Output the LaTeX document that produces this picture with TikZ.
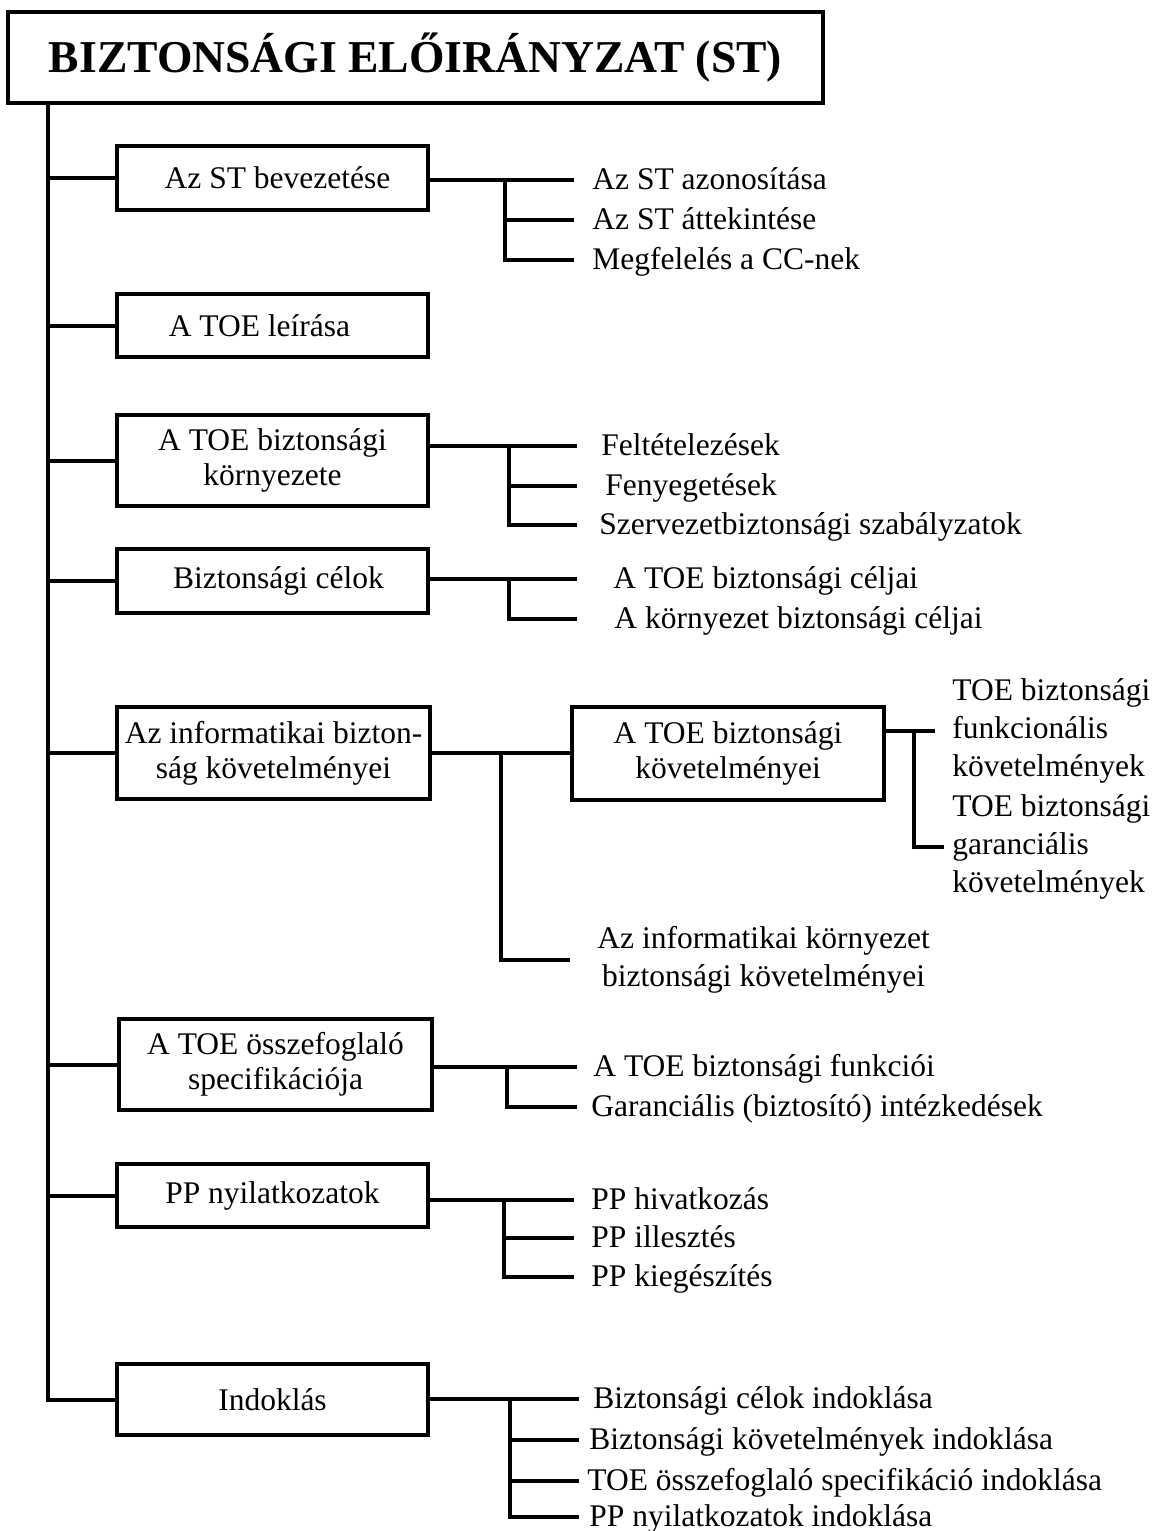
\documentclass[tikz,border=0pt]{standalone}
\usepackage{fontspec}
\setmainfont{Liberation Serif}
\begin{document}
\tikzset{
  ln/.style={line width=2pt},
  box/.style={draw, line width=2pt, inner sep=1pt, align=center,
    font=\fontsize{15.75}{17.5}\selectfont},
  item/.style={anchor=west, inner ysep=0pt, inner xsep=9pt,
    font=\fontsize{15.75}{19}\selectfont, text height=11.5pt, text depth=2.5pt},
  multi/.style={anchor=west, inner ysep=0pt, font=\fontsize{15.75}{19}\selectfont},
}
\begin{tikzpicture}[x=0.5pt,y=-0.5pt]
\fill[white,use as bounding box] (0,0) rectangle (1163,1531);

% title
\node[box, font=\bfseries\fontsize{22.8}{27}\selectfont, minimum width=407.5pt, minimum height=45.5pt]
  (title) at (415.5,57.5) {BIZTONSÁGI ELŐIRÁNYZAT (ST)};

% main boxes
\node[box, minimum width=155.5pt, minimum height=32pt]   (b1) at (272.5,178)    {\hspace*{5pt}Az ST bevezetése};
\node[box, minimum width=155.5pt, minimum height=31.5pt] (b2) at (272.5,325.5)  {A TOE leírása\hspace*{13pt}};
\node[box, minimum width=155.5pt, minimum height=45.5pt] (b3) at (272.5,460.5)  {A TOE biztonsági\\környezete};
\node[box, minimum width=155.5pt, minimum height=32pt]   (b4) at (272.5,581)    {\hspace*{6pt}Biztonsági célok};
\node[box, minimum width=156.5pt, minimum height=46pt]   (b5) at (273.5,753)    {Az informatikai bizton-\\ság követelményei};
\node[box, minimum width=156pt,   minimum height=46.5pt] (b5a) at (728,753)     {A TOE biztonsági\\követelményei};
\node[box, minimum width=156.5pt, minimum height=45.5pt] (b6) at (275.5,1064.5) {A TOE összefoglaló\\specifikációja};
\node[box, minimum width=155.5pt, minimum height=31.5pt] (b7) at (272.5,1195.5) {PP nyilatkozatok};
\node[box, minimum width=155.5pt, minimum height=35.5pt] (b8) at (272.5,1399.5) {Indoklás};

% trunk
\coordinate (tx) at (48,0);
\draw[ln] (tx |- title.south) |- (b8.west);
\foreach \b in {b1,b2,b3,b4,b5,b6,b7}
  \draw[ln] (tx |- \b.west) -- (\b.west);

% group 1
\node[item] (t11) at (574,180) {Az ST azonosítása};
\node[item] (t12) at (574,220) {Az ST áttekintése};
\node[item] (t13) at (574,260) {Megfelelés a CC-nek};
\coordinate (j1) at (505,180);
\draw[ln] (b1.east |- t11.west) -- (t11.west);
\draw[ln] (j1) |- (t13.west);
\draw[ln] (j1 |- t12.west) -- (t12.west);

% group 3
\node[item, inner xsep=12pt] (t31) at (577,446) {Feltételezések};
\node[item, inner xsep=14pt] (t32) at (577,486) {Fenyegetések};
\node[item, inner xsep=11pt] (t33) at (577,525) {Szervezetbiztonsági szabályzatok};
\coordinate (j3) at (509,446);
\draw[ln] (b3.east |- t31.west) -- (t31.west);
\draw[ln] (j3) |- (t33.west);
\draw[ln] (j3 |- t32.west) -- (t32.west);

% group 4
\node[item, inner xsep=18pt] (t41) at (577,579) {A TOE biztonsági céljai};
\node[item, inner xsep=18.5pt] (t42) at (577,619) {A környezet biztonsági céljai};
\coordinate (j4) at (509,579);
\draw[ln] (b4.east |- t41.west) -- (t41.west);
\draw[ln] (j4) |- (t42.west);

% group 5
\node[multi, align=center, inner xsep=13.5pt] (e5) at (570,960) {Az informatikai környezet\\biztonsági követelményei};
\coordinate (j5) at (501,753);
\draw[ln] (b5.east) -- (b5a.west);
\draw[ln] (j5) |- (e5.west);

\node[multi, align=left, inner xsep=8.5pt] (r1) at (935,731) {TOE biztonsági\\funkcionális\\követelmények};
\node[multi, align=left, inner xsep=4pt] (r2) at (944,847) {TOE biztonsági\\garanciális\\követelmények};
\coordinate (j5a) at (914,731);
\draw[ln] (b5a.east |- r1.west) -- (r1.west);
\draw[ln] (j5a) |- (r2.west);

% group 6
\node[item, inner xsep=8pt] (t61) at (577,1067) {A TOE biztonsági funkciói};
\node[item, inner xsep=7pt] (t62) at (577,1107) {Garanciális (biztosító) intézkedések};
\coordinate (j6) at (507,1067);
\draw[ln] (b6.east |- t61.west) -- (t61.west);
\draw[ln] (j6) |- (t62.west);

% group 7
\node[item, inner xsep=8.5pt] (t71) at (574,1200) {PP hivatkozás};
\node[item, inner xsep=8.5pt] (t72) at (574,1238) {PP illesztés};
\node[item, inner xsep=8.5pt] (t73) at (574,1277) {PP kiegészítés};
\coordinate (j7) at (504,1200);
\draw[ln] (b7.east |- t71.west) -- (t71.west);
\draw[ln] (j7) |- (t73.west);
\draw[ln] (j7 |- t72.west) -- (t72.west);

% group 8
\node[item, inner xsep=7pt] (t81) at (579,1399) {Biztonsági célok indoklása};
\node[item, inner xsep=5pt] (t82) at (579,1440) {Biztonsági követelmények indoklása};
\node[item, inner xsep=4pt] (t83) at (579,1481) {TOE összefoglaló specifikáció indoklása};
\node[item, inner xsep=5pt] (t84) at (579,1517) {PP nyilatkozatok indoklása};
\coordinate (j8) at (510,1399);
\draw[ln] (b8.east |- t81.west) -- (t81.west);
\draw[ln] (j8) |- (t84.west);
\draw[ln] (j8 |- t82.west) -- (t82.west);
\draw[ln] (j8 |- t83.west) -- (t83.west);
\end{tikzpicture}
\end{document}
